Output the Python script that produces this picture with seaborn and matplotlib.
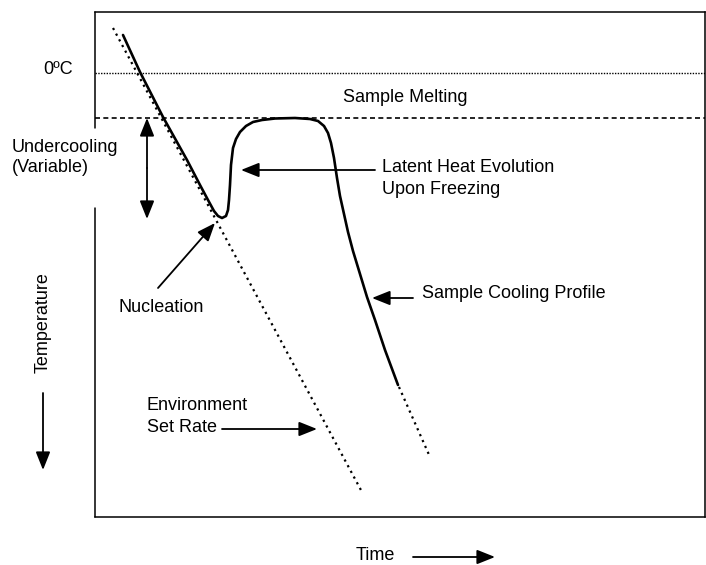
import matplotlib
matplotlib.use("Agg")
import matplotlib.pyplot as plt
import seaborn as sns
import pandas as pd

# ---- data (time, temperature in picture units; 0 = bottom-left of frame) ----
sample_time = [28, 45, 68, 92, 105, 113, 119, 123, 127, 131, 133, 134, 135, 136, 138,
               141, 145, 151, 158, 167, 180, 200, 215, 223, 229, 233, 236, 239, 242,
               245, 249, 253, 258, 265, 272, 280, 290, 303]
sample_temp = [482, 445, 400, 357, 332, 317, 306, 301, 299, 301, 307, 317, 332, 352, 369,
               378, 385, 391, 395, 397, 398.5, 399, 398, 396, 391, 384, 374, 359, 339,
               321, 303, 285, 266, 243, 220, 197, 167, 132]
env_time = [18, 267]
env_temp = [489, 25]
ext_time = [304, 335]
ext_temp = [130, 60]
zero_c = 444
melting = 399

sns.set_theme(style="white")
plt.rcParams["font.family"] = ["Liberation Sans", "DejaVu Sans"]
plt.rcParams["text.color"] = "black"

fig = plt.figure(figsize=(7.06, 5.65), dpi=100)
ax = fig.add_axes([95 / 706, 48 / 565, 610 / 706, 505 / 565])

sample = pd.DataFrame({"t": sample_time, "T": sample_temp})
env = pd.DataFrame({"t": env_time, "T": env_temp})
ext = pd.DataFrame({"t": ext_time, "T": ext_temp})

sns.lineplot(data=sample, x="t", y="T", ax=ax, color="black", lw=1.9, sort=False,
             estimator=None)
sns.lineplot(data=env, x="t", y="T", ax=ax, color="black", lw=1.6, sort=False,
             estimator=None, linestyle=(0, (1.0, 1.9)))
sns.lineplot(data=ext, x="t", y="T", ax=ax, color="black", lw=1.6, sort=False,
             estimator=None, linestyle=(0, (1.0, 1.9)))
ax.axhline(zero_c, color="black", lw=1.0, linestyle=(0, (1, 1)))
ax.axhline(melting, color="black", lw=1.2, linestyle=(0, (3, 2)))

ax.set_xlim(0, 610)
ax.set_ylim(0, 505)
ax.set_xticks([])
ax.set_yticks([])
ax.set_xlabel("")
ax.set_ylabel("")
for s in ["top", "bottom", "right"]:
    ax.spines[s].set_color("black")
    ax.spines[s].set_linewidth(1.1)
ax.spines["left"].set_visible(False)
ax.axvline(0, ymin=0, ymax=(517 - 208) / 505, color="black", lw=1.1, clip_on=False)
ax.axvline(0, ymin=(517 - 128) / 505, ymax=1, color="black", lw=1.1, clip_on=False)

H = 565
fs = 13


def txt(x, y, s, **kw):
    fig.text(x / 706, (H - y) / H, s, fontsize=fs, va="center", ha="left",
             color="black", **kw)


def arrow(x0, y0, x1, y1, style="-|>"):
    ax.annotate("", xy=(x1, H - y1), xycoords="figure pixels",
                xytext=(x0, H - y0), textcoords="figure pixels",
                arrowprops=dict(arrowstyle=style + ",head_length=1.0,head_width=0.4",
                                mutation_scale=11, color="black", lw=1.3,
                                shrinkA=0, shrinkB=0))


txt(43, 70, "0ºC")
txt(343, 98, "Sample Melting")
txt(12, 147, "Undercooling")
txt(12, 168, "(Variable)")
txt(382, 168, "Latent Heat Evolution")
txt(382, 190, "Upon Freezing")
txt(118, 307, "Nucleation")
txt(422, 294, "Sample Cooling Profile")
txt(147, 405, "Environment")
txt(147, 427, "Set Rate")
txt(356, 555, "Time")
fig.text(43 / 706, (H - 323) / H, "Temperature", fontsize=fs, rotation=90,
         ha="center", va="center", color="black")

arrow(147, 168, 147, 118)
arrow(147, 168, 147, 219)
arrow(375, 170, 241, 170)
arrow(158, 288, 215, 223)
arrow(413, 298, 372, 298)
arrow(222, 429, 317, 429)
arrow(413, 557, 495, 557)
arrow(43, 393, 43, 470)

fig.savefig("out.png", dpi=100)
